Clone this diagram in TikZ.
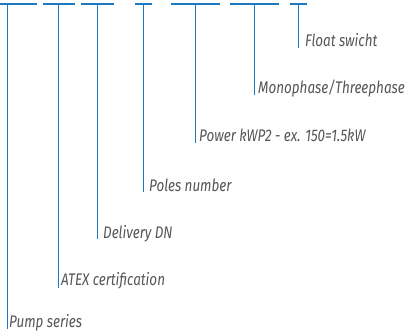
\documentclass[tikz,border=0pt]{standalone}
\usepackage{fontspec}
\setmainfont{Fira Sans}[FakeStretch=0.80]
\definecolor{lineblue}{RGB}{30,122,192}
\definecolor{txtgray}{RGB}{85,85,88}
\begin{document}
\begin{tikzpicture}[x=1pt,y=-1pt,
  bar/.style={draw=lineblue,line width=1.3pt},
  leader/.style={draw=lineblue,line width=1pt},
  lbl/.style={anchor=base west,inner sep=0pt,text=txtgray,font=\fontsize{16.8}{19}\selectfont\itshape}]
\useasboundingbox (0,0) rectangle (412,332);
% bars
\draw[bar] (0,4) -- (37,4);
\draw[bar] (43,4) -- (75,4);
\draw[bar] (81,4) -- (114,4);
\draw[bar] (135,4) -- (152,4);
\draw[bar] (171,4) -- (220,4);
\draw[bar] (230,4) -- (279,4);
\draw[bar] (290,4) -- (307,4);
% label nodes
\node[lbl] (l1) at (9,327) {Pump series};
\node[lbl] (l2) at (61,285) {ATEX certification};
\node[lbl] (l3) at (103,238) {Delivery DN};
\node[lbl] (l4) at (149,191) {Poles number};
\node[lbl] (l5) at (199,141) {Power kWP2 - ex. 150=1.5kW};
\node[lbl] (l6) at (258,93) {Monophase/Threephase};
\node[lbl] (l7) at (305,46) {Float swicht};
% leader tops and ends
\coordinate (t1) at (7,4);   \coordinate (e1) at (7,329);
\coordinate (t2) at (58,4);  \coordinate (e2) at (58,288);
\coordinate (t3) at (97,4);  \coordinate (e3) at (97,239);
\coordinate (t4) at (143,4); \coordinate (e4) at (143,192);
\coordinate (t5) at (195,4); \coordinate (e5) at (195,143);
\coordinate (t6) at (254,4); \coordinate (e6) at (254,95);
\coordinate (t7) at (298,4); \coordinate (e7) at (298,48);
\foreach \i in {1,...,7} {\draw[leader] (t\i) -- (e\i);}
\end{tikzpicture}
\end{document}
